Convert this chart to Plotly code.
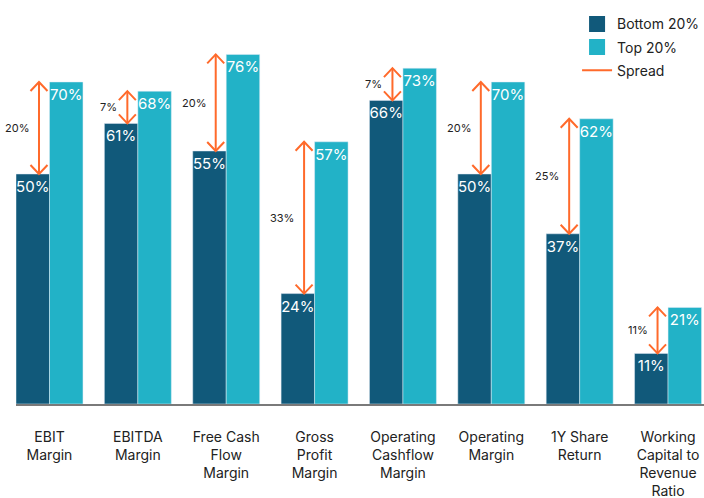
import plotly.graph_objects as go

categories = [
    "EBIT<br>Margin",
    "EBITDA<br>Margin",
    "Free Cash<br>Flow<br>Margin",
    "Gross<br>Profit<br>Margin",
    "Operating<br>Cashflow<br>Margin",
    "Operating<br>Margin",
    "1Y Share<br>Return",
    "Working<br>Capital to<br>Revenue<br>Ratio",
]
bottom_20 = [50, 61, 55, 24, 66, 50, 37, 11]
top_20 = [70, 68, 76, 57, 73, 70, 62, 21]
spread = [20, 7, 20, 33, 7, 20, 25, 11]

DARK = "#11597A"
LIGHT = "#22B2C7"
ORANGE = "#FF6A2B"
TEXT = "#222222"
FONT = "Inter"

W, H = 704, 498
M_L, M_R, M_T, M_B = 16, 0, 30, 94
X_RANGE = [-0.379, 7.407]
Y_RANGE = [0, 81.3]

# pixel -> data conversions for the arrow heads
px_x = (W - M_L - M_R) / (X_RANGE[1] - X_RANGE[0])
px_y = (H - M_T - M_B) / (Y_RANGE[1] - Y_RANGE[0])
head_dx = 8.5 / px_x
head_dy = 9.0 / px_y
arrow_off = 10.5 / px_x

idx = list(range(len(categories)))

fig = go.Figure()
label_font = dict(color="white", size=15, family=FONT)
fig.add_trace(go.Bar(
    x=idx, y=bottom_20, name="Bottom 20%", marker_color=DARK, showlegend=False,
    text=[f"{v}%" for v in bottom_20], textposition="inside", textangle=0,
    insidetextanchor="end", textfont=label_font, constraintext="none",
))
fig.add_trace(go.Bar(
    x=idx, y=top_20, name="Top 20%", marker_color=LIGHT, showlegend=False,
    text=[f"{v}%" for v in top_20], textposition="inside", textangle=0,
    insidetextanchor="end", textfont=label_font, constraintext="none",
))

# legend entries with large square swatches
for name, col in [("Bottom 20%", DARK), ("Top 20%", LIGHT)]:
    fig.add_trace(go.Scatter(
        x=[None], y=[None], mode="markers", name=name, legendgroup=name,
        marker=dict(symbol="square", size=16, color=col),
    ))

# double-headed spread arrows between the two bar tops
ax, ay = [], []
for i, lo, hi in zip(idx, bottom_20, top_20):
    xa = i - arrow_off
    ax += [xa, xa, None]
    ay += [lo, hi, None]
    ax += [xa - head_dx, xa, xa + head_dx, None]
    ay += [hi - head_dy, hi, hi - head_dy, None]
    ax += [xa - head_dx, xa, xa + head_dx, None]
    ay += [lo + head_dy, lo, lo + head_dy, None]
fig.add_trace(go.Scatter(
    x=ax, y=ay, mode="lines", name="Spread", legendgroup="Spread",
    line=dict(color=ORANGE, width=2), hoverinfo="skip",
))

for i, lo, hi, s in zip(idx, bottom_20, top_20, spread):
    fig.add_annotation(
        x=i - arrow_off, y=(lo + hi) / 2, text=f"{s}%", showarrow=False,
        xanchor="right", yanchor="middle", xshift=-8,
        font=dict(size=11, color=TEXT, family=FONT),
    )

fig.update_layout(
    width=W, height=H,
    margin=dict(l=M_L, r=M_R, t=M_T, b=M_B, autoexpand=False),
    plot_bgcolor="white", paper_bgcolor="white",
    barmode="group", bargap=0.242, bargroupgap=0,
    font=dict(family=FONT, size=14, color=TEXT),
    legend=dict(
        x=0.8155, y=1.058, xanchor="left", yanchor="top",
        font=dict(size=14, color=TEXT), tracegroupgap=2,
        bgcolor="rgba(0,0,0,0)",
    ),
    showlegend=True,
)
fig.update_xaxes(
    range=X_RANGE, tickvals=idx, ticktext=categories,
    showgrid=False, zeroline=False, showline=True,
    linecolor="#7a7a7a", linewidth=2, ticks="", ticklabelstandoff=19,
    tickfont=dict(size=14, color=TEXT, family=FONT),
)
fig.update_yaxes(range=Y_RANGE, visible=False, showgrid=False, zeroline=False)

fig.write_html("out.html")
